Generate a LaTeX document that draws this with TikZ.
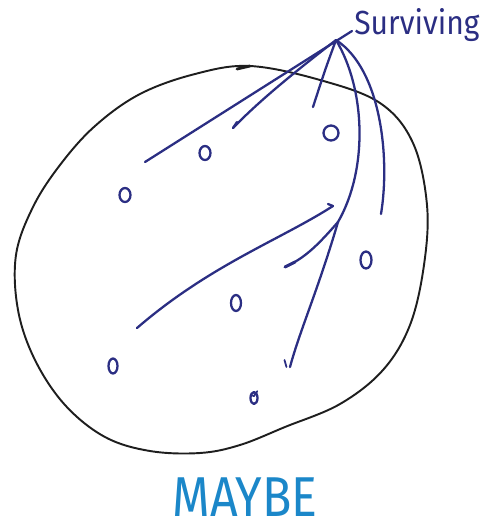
\documentclass[tikz,border=0pt]{standalone}
\usepackage{fontspec}
\setsansfont{Fira Sans}
\usetikzlibrary{shapes.geometric}
\definecolor{cink}{HTML}{2B2E83}
\definecolor{csky}{HTML}{1B87C9}
\definecolor{cpencil}{HTML}{1E1E1E}
\tikzset{
  every picture/.style={font=\sffamily, line cap=round, line join=round},
  blob/.style={draw=cpencil, line width=1.1pt},
  trail/.style={draw=cink, line width=1.3pt},
  pt/.style={ellipse, draw=cink, line width=1.3pt, inner sep=0pt, minimum width=0.22cm, minimum height=0.28cm},
  label/.style={text=cink, font=\sffamily\fontsize{19}{19}\selectfont, inner sep=0pt},
  verdict/.style={text=csky, font=\sffamily\fontsize{32}{32}\selectfont, inner sep=0pt},
}

\begin{document}
\begin{tikzpicture}[x=0.02cm, y=-0.02cm]
  \useasboundingbox (0,0) rectangle (492,529);
  % the population
  \draw[blob] plot[smooth cycle, tension=0.6] coordinates {
    (250,66) (320,80) (380,103) (413,143) (427,205) (424,265) (410,325)
    (383,370) (340,404) (285,427) (240,445) (200,453) (150,451) (105,437)
    (65,405) (35,360) (18,310) (16,255) (33,207) (60,165) (95,126) (140,94) (195,74)};
  \draw[blob, line width=1.6pt] (237,69) -- (250,66);
  % individuals
  \node[pt] (o1) at (125,195) {};
  \node[pt] (o2) at (205,153) {};
  \node[pt, minimum width=0.3cm, minimum height=0.3cm] (o3) at (331,133) {};
  \node[pt, minimum height=0.34cm] (o4) at (366,260) {};
  \node[pt, minimum width=0.2cm, minimum height=0.32cm] (o5) at (236,303) {};
  \node[pt, minimum width=0.18cm, minimum height=0.3cm] (o6) at (113,366) {};
  \node[pt, minimum width=0.14cm, minimum height=0.24cm] (o7) at (254,398) {};
  \draw[trail, line width=1pt] ([yshift=-1pt]o7.north west) -- ([yshift=-3pt]o7.north) -- ([yshift=1pt]o7.north east);
  % label and where the lines meet
  \node[label, anchor=base west] (surv) at (354,34) {\scalebox{0.9}[1]{Surviving}};
  \coordinate (tip) at (352,31);
  \coordinate (hub) at (336,40);
  \coordinate (fork) at (338,222);
  \coordinate (endA) at (145,162);
  \coordinate (endB) at (233,128);
  \coordinate (endC) at (313,107);
  \coordinate (endD) at (290,367);
  \coordinate (endE) at (285,267);
  \coordinate (endG) at (381,214);
  \coordinate (topF) at (333,206);
  \coordinate (endF) at (137,328);
  % trails
  \draw[trail] (tip) -- (endA);
  \draw[trail] (hub) .. controls (300,68) and (262,98) .. (endB);
  \draw[trail] (endB) -- ++(4,-6);
  \draw[trail] (hub) .. controls (325,70) .. (endC);
  \draw[trail] (hub) .. controls (366,90) and (368,170) .. (fork);
  \draw[trail] (fork) .. controls (318,290) and (300,330) .. (endD);
  \draw[trail, line width=1pt] ([xshift=-2pt]endD) -- ++(-2,-7);
  \draw[trail] (fork) .. controls (318,245) and (305,258) .. (endE);
  \draw[trail, line width=1.7pt] (endE) -- ++(10,-5);
  \draw[trail] (hub) .. controls (382,70) and (390,160) .. (endG);
  \draw[trail] (topF) -- ++(-5,-2);
  \draw[trail] (topF) .. controls (280,240) and (210,265) .. (endF);
  % verdict
  \node[verdict] (maybe) at (245,497) {\scalebox{0.86}[1]{MAYBE}};
\end{tikzpicture}
\end{document}
